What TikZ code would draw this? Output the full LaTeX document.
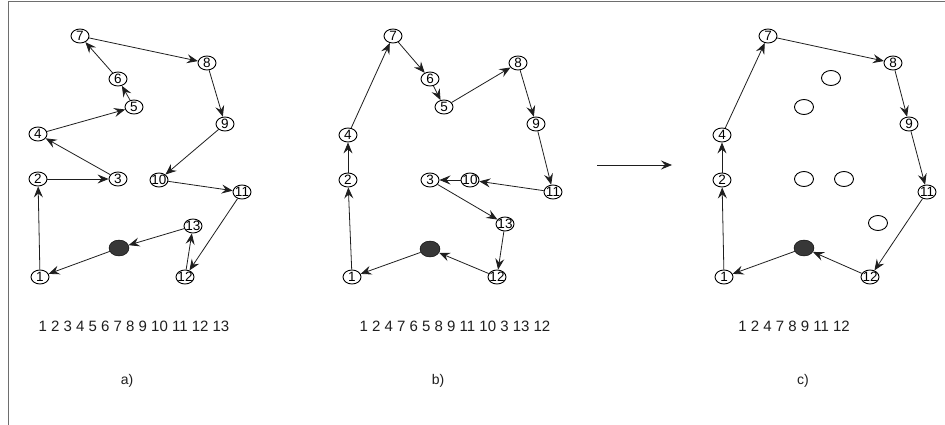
\documentclass[tikz,border=0pt]{standalone}
\usepackage{fontspec}
\setmainfont{Liberation Sans}
\usetikzlibrary{arrows.meta,shapes.geometric}

\definecolor{tourgray}{RGB}{30, 30, 30}
\definecolor{framegray}{RGB}{110, 110, 110}
\definecolor{depotfill}{RGB}{55, 55, 55}

\begin{document}
\begin{tikzpicture}[x=1pt, y=-1pt,
    vtx/.style={ellipse, draw=black, line width=0.9pt, fill=white, minimum width=18pt,
      minimum height=14pt, inner sep=0pt, font=\fontsize{13.5}{13.5}\selectfont},
    hub/.style={ellipse, draw=black, fill=depotfill, minimum width=20pt, minimum height=16pt, inner sep=0pt},
    link/.style={draw=tourgray, line width=0.8pt, -{Stealth[length=11pt, width=9pt, inset=4pt]}},
    seqtext/.style={font=\fontsize{15}{15}\selectfont, text=tourgray},
    caption/.style={font=\fontsize{14}{14}\selectfont, text=tourgray}]
        \useasboundingbox (0,0) rectangle (945,425);
        % frame (top and left only)
        \draw[framegray, line width=1pt] (8,425) -- (8,2) -- (945,2);

        % a) all points in order
        \foreach \n/\px/\py in {1/40/277, 2/38/179, 3/118/179, 4/38/134, 5/134/107, 6/118/79,
            7/80/36, 8/207/63, 9/225/124, 10/159/180, 11/242/192, 12/185/277, 13/193/226}
          \node[vtx] (a\n) at (\px,\py) {\makebox[0pt]{\n}};
        \node[hub] (a0) at (119,248) {};
        \foreach \s/\t in {1/2, 2/3, 3/4, 4/5, 5/6, 6/7, 7/8, 8/9, 9/10, 10/11, 11/12, 12/13, 13/0, 0/1}
          \draw[link] (a\s) -- (a\t);

        % b) reordered tour
        \foreach \n/\px/\py in {1/352/277, 2/348/180, 3/430/180, 4/348/135, 5/444/107, 6/430/79,
            7/393/36, 8/518/63, 9/536/124, 10/470/180, 11/553/192, 12/497/277, 13/505/224}
          \node[vtx] (b\n) at (\px,\py) {\makebox[0pt]{\n}};
        \node[hub] (b0) at (430,249) {};
        \foreach \s/\t in {1/2, 2/4, 4/7, 7/6, 6/5, 5/8, 8/9, 9/11, 11/10, 10/3, 3/13, 13/12, 12/0, 0/1}
          \draw[link] (b\s) -- (b\t);

        % transition arrow
        \coordinate (go1) at (597,165);
        \coordinate (go2) at (672,165);
        \draw[link] (go1) -- (go2);

        % c) reduced tour, skipped points left blank
        \foreach \n/\px/\py in {1/724/277, 2/722/180, 4/722/135, 7/768/36, 8/893/63, 9/909/124,
            11/927/192, 12/870/277}
          \node[vtx] (c\n) at (\px,\py) {\makebox[0pt]{\n}};
        \foreach \n/\px/\py in {3/804/179, 5/804/107, 6/831/78, 10/844/179, 13/878/223}
          \node[vtx, minimum width=19pt, minimum height=15pt] (c\n) at (\px,\py) {};
        \node[hub] (c0) at (804,248) {};
        \foreach \s/\t in {1/2, 2/4, 4/7, 7/8, 8/9, 9/11, 11/12, 12/0, 0/1}
          \draw[link] (c\s) -- (c\t);

        % visiting orders and captions
        \node[seqtext] (seqa) at (134,326) {1 2 3 4 5 6 7 8 9 10 11 12 13};
        \node[seqtext] (seqb) at (455,326) {1 2 4 7 6 5 8 9 11 10 3 13 12};
        \node[seqtext] (seqc) at (794,326) {1 2 4 7 8 9 11 12};
        \node[caption] (capa) at (127,381) {a)};
        \node[caption] (capb) at (438,381) {b)};
        \node[caption] (capc) at (803,381) {c)};
\end{tikzpicture}
\end{document}
